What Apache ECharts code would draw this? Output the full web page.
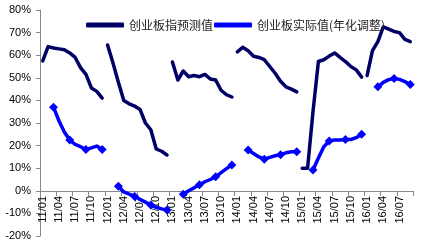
<!DOCTYPE html>
<html>
<head>
<meta charset="utf-8">
<script src="https://cdn.jsdelivr.net/npm/echarts@6/dist/echarts.min.js"></script>
<style>
html,body{margin:0;padding:0;background:#fff;}
#chart{width:424px;height:245px;}
</style>
</head>
<body>
<div id="chart"></div>
<script>
// Monthly categories 2011/01 .. 2016/09
var categories = [
 '11/01','11/02','11/03','11/04','11/05','11/06','11/07','11/08','11/09','11/10','11/11','11/12',
 '12/01','12/02','12/03','12/04','12/05','12/06','12/07','12/08','12/09','12/10','12/11','12/12',
 '13/01','13/02','13/03','13/04','13/05','13/06','13/07','13/08','13/09','13/10','13/11','13/12',
 '14/01','14/02','14/03','14/04','14/05','14/06','14/07','14/08','14/09','14/10','14/11','14/12',
 '15/01','15/02','15/03','15/04','15/05','15/06','15/07','15/08','15/09','15/10','15/11','15/12',
 '16/01','16/02','16/03','16/04','16/05','16/06','16/07','16/08','16/09'
];
var yTicks = [-20,-10,0,10,20,30,40,50,60,70,80];

var forecastName = '创业板指预测值';
var actualName = '创业板实际值(年化调整)';

// Forecast (%), one array per year, starting at its first month
var forecast2011 = [57.5, 63.8, 63.2, 62.8, 62.4, 61, 59, 54.5, 51.5, 45.5, 44, 41];
var forecast2012 = [64.5, 56.5, 48, 40, 38.5, 37.5, 36, 30, 27, 18.5, 17.5, 15.8];
var forecast2013 = [57, 49, 53, 50.5, 51, 50.5, 51.5, 49.5, 49, 44.5, 42.5, 41.5];
var forecast2014 = [61.5, 63.5, 62, 59.5, 59, 58, 55, 52, 48.5, 46, 45, 43.8];
var forecast2015 = [10, 10, 35, 57.2, 58, 59.6, 61, 59, 57.2, 55, 53.5, 50.3];
var forecast2016 = [51, 62, 66, 72.5, 71.5, 70.5, 70, 67, 66];
var forecastStart = ['11/01','12/01','13/01','14/01','15/01','16/01'];

// Actual (annualised, %), one array per year, starting at its first month
var actual2011 = [37, 31, 26, 22.5, 20.5, 19.5, 18.3, 19, 19.8, 18.3];
var actual2012 = [2, -0.5, -1.5, -2.5, -3.8, -5, -6.3, -7.3, -8, -8.5];
var actual2013 = [-1.5, 0, 1.3, 2.7, 4, 5, 6.2, 8, 9.8, 11.4];
var actual2014 = [18, 16.5, 15, 14, 14.8, 15.5, 16, 16.8, 17.3, 17.3];
var actual2015 = [9.2, 14.5, 19.5, 22, 22.5, 22.5, 22.7, 22.7, 23.5, 25];
var actual2016 = [46, 48, 49.2, 49.7, 49.3, 48.3, 47];
var actualStart = ['11/03','12/03','13/03','14/03','15/03','16/03'];
// quarter-end months carry a diamond marker
var markerMonths = ['03','06','09','12'];

function placeSegment(arr, startCat) {
  var full = categories.map(function(){ return null; });
  var s = categories.indexOf(startCat);
  arr.forEach(function(v, k){ full[s + k] = v; });
  return full;
}

var forecastYears = [forecast2011, forecast2012, forecast2013, forecast2014, forecast2015, forecast2016];
var actualYears = [actual2011, actual2012, actual2013, actual2014, actual2015, actual2016];

var series = [];
forecastYears.forEach(function(arr, k){
  series.push({
    name: forecastName,
    type: 'line',
    data: placeSegment(arr, forecastStart[k]),
    symbol: 'none',
    connectNulls: false,
    lineStyle: {color: '#000066', width: 3.5, cap: 'round', join: 'round'},
    itemStyle: {color: '#000066'},
    z: 2
  });
});

var actualFull = categories.map(function(){ return null; });
actualYears.forEach(function(arr, k){
  var seg = placeSegment(arr, actualStart[k]);
  seg.forEach(function(v, i){ if (v !== null) actualFull[i] = v; });
});
var actualData = actualFull.map(function(v, i){
  if (v === null) return null;
  var mm = categories[i].split('/')[1];
  if (markerMonths.indexOf(mm) >= 0) return {value: v};
  return {value: v, symbol: 'none'};
});
series.push({
  name: actualName,
  type: 'line',
  data: actualData,
  symbol: 'diamond',
  symbolSize: 9,
  showSymbol: true,
  showAllSymbol: true,
  connectNulls: false,
  lineStyle: {color: '#0000FF', width: 3.5, cap: 'round', join: 'round'},
  itemStyle: {color: '#0000FF'},
  z: 3
});

var chart = echarts.init(document.getElementById('chart'), null, {renderer: 'canvas'});
chart.setOption({
  animation: false,
  backgroundColor: '#ffffff',
  grid: {left: 40, right: 11, top: 10, bottom: 9, containLabel: false, outerBoundsMode: 'none'},
  legend: [
    {
      data: [{name: forecastName, icon: 'roundRect'}],
      left: 81, top: 14,
      itemWidth: 38, itemHeight: 5,
      textStyle: {fontFamily: 'Noto Sans CJK SC', fontSize: 12, color: '#222'}
    },
    {
      data: [{name: actualName, icon: 'roundRect'}],
      left: 209, top: 14,
      itemWidth: 38, itemHeight: 5,
      textStyle: {fontFamily: 'Noto Sans CJK SC', fontSize: 12, color: '#222'}
    }
  ],
  xAxis: {
    type: 'category',
    data: categories,
    boundaryGap: true,
    offset: -45,
    axisLine: {show: true, onZero: false, lineStyle: {color: '#888888', width: 1}},
    axisTick: {show: true, interval: 2, length: 5, lineStyle: {color: '#888888'}},
    axisLabel: {interval: 2, rotate: 90, margin: 5, fontFamily: 'Liberation Sans', fontSize: 11, color: '#000'},
    splitLine: {show: false}
  },
  yAxis: {
    type: 'value',
    min: yTicks[0], max: yTicks[yTicks.length - 1], interval: 10,
    axisLine: {show: true, lineStyle: {color: '#888888', width: 1}},
    axisTick: {show: true, length: 4, lineStyle: {color: '#888888'}},
    axisLabel: {formatter: '{value}%', margin: 9, fontFamily: 'Liberation Sans', fontSize: 11, color: '#000'},
    splitLine: {show: false}
  },
  series: series
});
</script>
</body>
</html>
